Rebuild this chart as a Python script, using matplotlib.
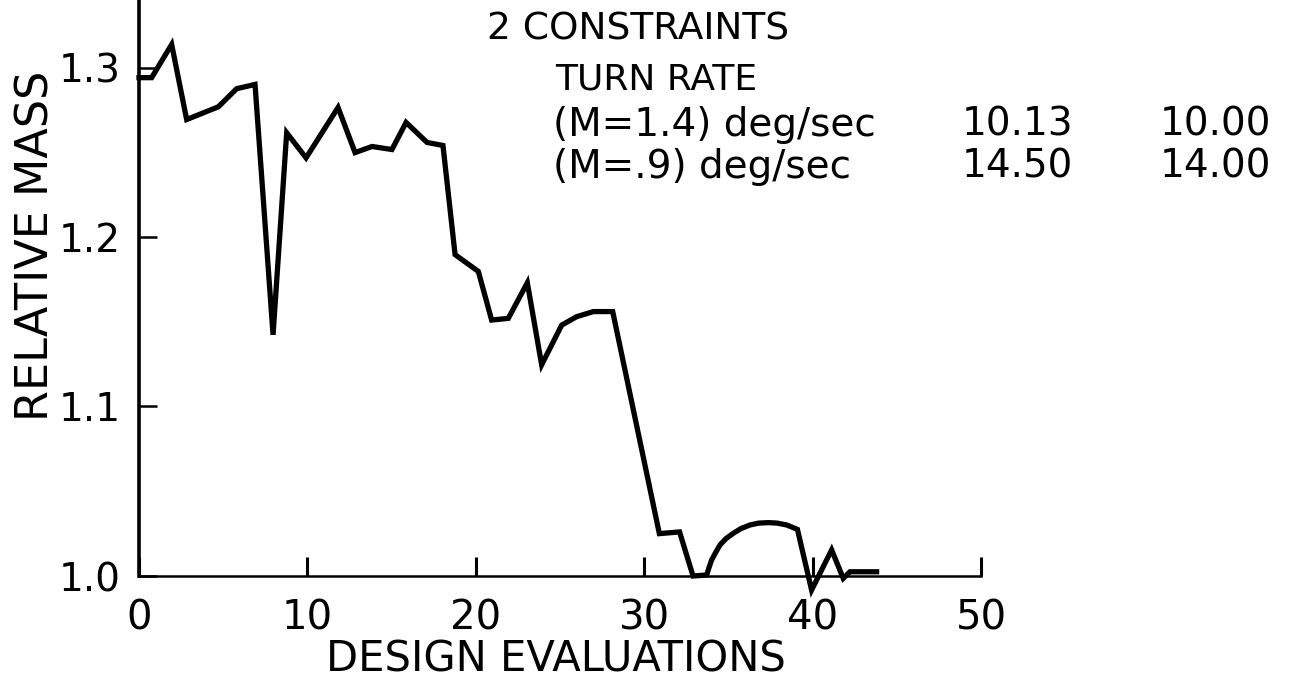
import matplotlib
matplotlib.use("Agg")
import matplotlib.pyplot as plt

# ---- data ----
evaluations = [0, 0.75, 1.94, 2.83, 4.71, 5.8, 6.89, 7.96, 8.77, 9.92,
               11.82, 12.83, 13.84, 15.02, 15.86, 17.1, 18.05, 18.77, 20.15,
               20.94, 21.93, 23.06, 23.91, 25.1, 25.99, 26.98, 28.13, 30.9,
               32.1, 32.9, 33.71, 33.85, 34.0, 34.25, 34.5, 34.85, 35.29,
               35.75, 36.28, 36.8, 37.37, 37.9, 38.46, 39.1, 39.94, 41.13,
               41.82, 42.22, 43.8]
relative_mass = [1.294, 1.294, 1.3136, 1.2693, 1.2768, 1.2875, 1.290, 1.1423,
                 1.2615, 1.2467, 1.2764, 1.2498, 1.2534, 1.2516, 1.2676,
                 1.2558, 1.254, 1.1896, 1.1797, 1.151, 1.152, 1.173, 1.1246,
                 1.148, 1.153, 1.156, 1.156, 1.025, 1.026, 1.0, 1.0006,
                 1.005, 1.0094, 1.014, 1.0183, 1.022, 1.0252, 1.028, 1.0301,
                 1.0312, 1.0315, 1.0312, 1.0301, 1.0275, 0.9917, 1.0154,
                 0.9986, 1.0025, 1.0025]

x_ticks = [0, 10, 20, 30, 40, 50]
x_tick_labels = ["0", "10", "20", "30", "40", "50"]
y_ticks = [1.0, 1.1, 1.2, 1.3]
y_tick_labels = ["1.0", "1.1", "1.2", "1.3"]

x_label = "DESIGN EVALUATIONS"
y_label = "RELATIVE MASS"
title_text = "2 CONSTRAINTS"
table_header = "TURN RATE"
row_labels = ["(M=1.4) deg/sec", "(M=.9) deg/sec"]
col1_values = ["10.13", "14.50"]
col2_values = ["10.00", "14.00"]

# ---- figure ----
W, H = 1315, 688
fig = plt.figure(figsize=(W / 100, H / 100), dpi=100)
plt.rcParams['font.family'] = ['DejaVu Sans']

left, right, bottom, top = 139, 981, 576, 0
ax = fig.add_axes([left / W, 1 - bottom / H, (right - left) / W, (bottom - top) / H])

ax.plot(evaluations, relative_mass, color="black", lw=3.8,
        solid_joinstyle="miter", clip_on=False, zorder=3)

ax.set_xlim(0, 50)
ax.set_ylim(1.0, 1.0 + 576 / 1695)

for s in ["top", "right"]:
    ax.spines[s].set_visible(False)
ax.spines["left"].set_linewidth(2.6)
ax.spines["bottom"].set_linewidth(1.8)

ax.set_xticks(x_ticks)
ax.set_xticklabels(x_tick_labels)
ax.set_yticks(y_ticks)
ax.set_yticklabels(y_tick_labels)
ax.tick_params(axis="x", direction="in", length=14, width=2.2, pad=16,
               labelsize=29)
ax.tick_params(axis="y", direction="in", length=13, width=1.8, pad=13,
               labelsize=28)


def px(x, y):
    return x / W, 1 - y / H


# axis titles placed where the reference has them
fig.text(*px(556, 660), x_label, fontsize=30, ha="center", va="center")
fig.text(*px(36, 246), y_label, fontsize=32, ha="center", va="center",
         rotation=90)

# ---- annotation block ----
fig.text(*px(487, 30), title_text, fontsize=27, ha="left", va="center")
fig.text(*px(555, 80), table_header, fontsize=26, ha="left", va="center")
row_y = [125, 167]
for lab, v1, v2, yy in zip(row_labels, col1_values, col2_values, row_y):
    fig.text(*px(553, yy), lab, fontsize=28, ha="left", va="center")
    fig.text(*px(962, yy), v1, fontsize=28, ha="left", va="center")
    fig.text(*px(1160, yy), v2, fontsize=28, ha="left", va="center")

fig.savefig("out.png", dpi=100)
